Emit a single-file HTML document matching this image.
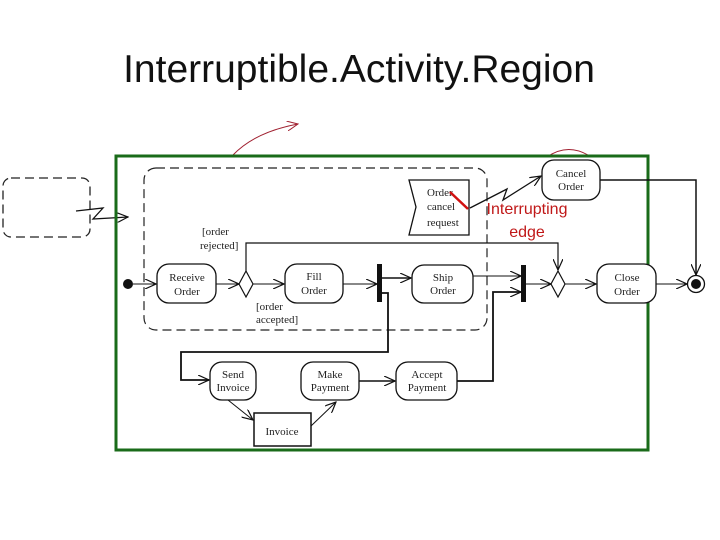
<!DOCTYPE html>
<html><head><meta charset="utf-8"><style>
html,body{margin:0;padding:0;background:#fff;}
svg{display:block;}
.t{font-family:"Liberation Serif",serif;font-size:11px;fill:#222;}
</style></head><body>
<svg width="720" height="540" viewBox="0 0 720 540" xmlns="http://www.w3.org/2000/svg">
<defs>
<marker id="a" markerWidth="12" markerHeight="10" refX="11" refY="5" orient="auto" markerUnits="userSpaceOnUse">
<path d="M0,0 L11,5 L0,10" fill="none" stroke="#111" stroke-width="1.2"/></marker>
<marker id="r" markerWidth="12" markerHeight="10" refX="11" refY="5" orient="auto" markerUnits="userSpaceOnUse">
<path d="M0,0 L11,5 L0,10" fill="none" stroke="#a02030" stroke-width="1"/></marker>
</defs>
<text x="359" y="82" text-anchor="middle" font-family="Liberation Sans,sans-serif" font-size="39" fill="#111">Interruptible.Activity.Region</text>
<!-- red sketch marks -->
<path d="M233,155 Q255,132 298,124" fill="none" stroke="#a02030" stroke-width="1" marker-end="url(#r)"/>
<path d="M547,157 Q567,143 588,155" fill="none" stroke="#a02030" stroke-width="1"/>
<!-- left dashed box -->
<rect x="3" y="178" width="87" height="59" rx="8" fill="none" stroke="#222" stroke-dasharray="9,5" stroke-width="1.3"/>
<path d="M76,211 L103,208 L93,219 L128,217" fill="none" stroke="#111" stroke-width="1.3" marker-end="url(#a)"/>
<!-- green rect -->
<rect x="116" y="156" width="532" height="294" fill="none" stroke="#1a6b1a" stroke-width="3"/>
<!-- dashed region -->
<rect x="144" y="168" width="343" height="162" rx="12" fill="none" stroke="#222" stroke-dasharray="9,5" stroke-width="1.2"/>
<!-- initial -->
<circle cx="128" cy="284" r="5" fill="#111"/>
<line x1="133" y1="284" x2="156" y2="284" stroke="#111" marker-end="url(#a)"/>
<rect x="157" y="264" width="59" height="39" rx="12" fill="#fff" stroke="#111" stroke-width="1.3"/>
<text class="t" x="187" y="281" text-anchor="middle">Receive</text><text class="t" x="187" y="295" text-anchor="middle">Order</text>
<line x1="216" y1="284" x2="239" y2="284" stroke="#111" marker-end="url(#a)"/>
<path d="M246,271 L253,284 L246,297 L239,284 Z" fill="#fff" stroke="#111" stroke-width="1.2"/>
<line x1="253" y1="284" x2="284" y2="284" stroke="#111" marker-end="url(#a)"/>
<text class="t" x="202" y="235">[order</text><text class="t" x="200" y="249">rejected]</text>
<text class="t" x="256" y="310">[order</text><text class="t" x="256" y="323">accepted]</text>
<rect x="285" y="264" width="58" height="39" rx="12" fill="#fff" stroke="#111" stroke-width="1.3"/>
<text class="t" x="314" y="280" text-anchor="middle">Fill</text><text class="t" x="314" y="294" text-anchor="middle">Order</text>
<line x1="343" y1="284" x2="377" y2="284" stroke="#111" marker-end="url(#a)"/>
<rect x="377" y="264" width="5" height="38" fill="#111"/>
<line x1="382" y1="278" x2="411" y2="278" stroke="#111" stroke-width="1.5" marker-end="url(#a)"/>
<rect x="412" y="265" width="61" height="38" rx="12" fill="#fff" stroke="#111" stroke-width="1.3"/>
<text class="t" x="443" y="281" text-anchor="middle">Ship</text><text class="t" x="443" y="294" text-anchor="middle">Order</text>
<line x1="473" y1="276" x2="521" y2="276" stroke="#111" marker-end="url(#a)"/>
<rect x="521" y="265" width="5" height="37" fill="#111"/>
<line x1="526" y1="284" x2="551" y2="284" stroke="#111" marker-end="url(#a)"/>
<path d="M558,271 L565,284 L558,297 L551,284 Z" fill="#fff" stroke="#111" stroke-width="1.2"/>
<line x1="565" y1="284" x2="596" y2="284" stroke="#111" marker-end="url(#a)"/>
<rect x="597" y="264" width="59" height="39" rx="12" fill="#fff" stroke="#111" stroke-width="1.3"/>
<text class="t" x="627" y="281" text-anchor="middle">Close</text><text class="t" x="627" y="295" text-anchor="middle">Order</text>
<line x1="656" y1="284" x2="687" y2="284" stroke="#111" marker-end="url(#a)"/>
<circle cx="696" cy="284" r="8.5" fill="#fff" stroke="#111" stroke-width="1.3"/><circle cx="696" cy="284" r="5" fill="#111"/>
<!-- rejected line -->
<path d="M246,271 L246,243 L558,243 L558,270" fill="none" stroke="#111" stroke-width="1.2" marker-end="url(#a)"/>
<!-- cancel -->
<path d="M409,180 L469,180 L469,235 L409,235 L416,207 Z" fill="#fff" stroke="#111" stroke-width="1.3"/>
<text class="t" x="427" y="196" font-size="9">Order</text><text class="t" x="427" y="210" font-size="9">cancel</text><text class="t" x="427" y="226" font-size="9">request</text>
<path d="M470,208 L507,189 L503,200 L541,176" fill="none" stroke="#111" stroke-width="1.3" marker-end="url(#a)"/>
<line x1="450" y1="192" x2="468" y2="209" stroke="#d01010" stroke-width="2.5"/>
<rect x="542" y="160" width="58" height="40" rx="12" fill="#fff" stroke="#111" stroke-width="1.3"/>
<text class="t" x="571" y="177" text-anchor="middle">Cancel</text><text class="t" x="571" y="190" text-anchor="middle">Order</text>
<path d="M600,180 L696,180 L696,275" fill="none" stroke="#111" stroke-width="1.5" marker-end="url(#a)"/>
<text x="527" y="214" text-anchor="middle" font-family="Liberation Sans,sans-serif" font-size="16" fill="#c01818">Interrupting</text>
<text x="527" y="237" text-anchor="middle" font-family="Liberation Sans,sans-serif" font-size="16" fill="#c01818">edge</text>
<!-- lower -->
<path d="M382,293 L388,293 L388,352 L181,352 L181,380 L209,380" fill="none" stroke="#111" stroke-width="1.8" marker-end="url(#a)"/>
<rect x="210" y="362" width="46" height="38" rx="12" fill="#fff" stroke="#111" stroke-width="1.3"/>
<text class="t" x="233" y="378" text-anchor="middle">Send</text><text class="t" x="233" y="391" text-anchor="middle">Invoice</text>
<rect x="301" y="362" width="58" height="38" rx="12" fill="#fff" stroke="#111" stroke-width="1.3"/>
<text class="t" x="330" y="378" text-anchor="middle">Make</text><text class="t" x="330" y="391" text-anchor="middle">Payment</text>
<line x1="359" y1="381" x2="395" y2="381" stroke="#111" stroke-width="1.5" marker-end="url(#a)"/>
<rect x="396" y="362" width="61" height="38" rx="12" fill="#fff" stroke="#111" stroke-width="1.3"/>
<text class="t" x="427" y="378" text-anchor="middle">Accept</text><text class="t" x="427" y="391" text-anchor="middle">Payment</text>
<path d="M457,381 L493,381 L493,292 L521,292" fill="none" stroke="#111" stroke-width="1.8" marker-end="url(#a)"/>
<line x1="228" y1="400" x2="253" y2="420" stroke="#111" marker-end="url(#a)"/>
<rect x="254" y="413" width="57" height="33" fill="#fff" stroke="#111" stroke-width="1.5"/>
<text class="t" x="282" y="435" text-anchor="middle">Invoice</text>
<line x1="311" y1="426" x2="336" y2="402" stroke="#111" marker-end="url(#a)"/>
</svg>
</body></html>
